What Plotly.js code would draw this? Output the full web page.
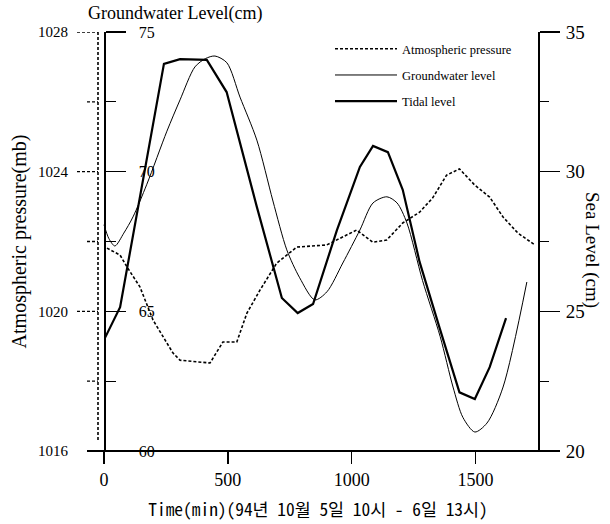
<!DOCTYPE html>
<html>
<head>
<meta charset="utf-8">
<script src="https://cdn.plot.ly/plotly-3.0.1.min.js"></script>
<style>html,body{margin:0;padding:0;background:#fff;}#chart{width:610px;height:524px;}</style>
</head>
<body>
<div id="chart"></div>
<script>
// Atmospheric pressure (mb)
const timePressure = [12, 65, 93, 145, 198, 278, 307, 428, 480, 536, 577, 629, 697, 778, 899, 1020, 1085, 1141, 1206, 1274, 1327, 1383, 1435, 1496, 1557, 1611, 1671, 1740];
const pressure = [1021.81, 1021.61, 1021.27, 1020.7, 1019.75, 1018.81, 1018.6, 1018.52, 1019.12, 1019.12, 1019.95, 1020.6, 1021.38, 1021.84, 1021.9, 1022.33, 1021.98, 1022.04, 1022.53, 1022.84, 1023.25, 1023.9, 1024.08, 1023.62, 1023.27, 1022.7, 1022.24, 1021.9];

// Groundwater level (cm)
const timeGround = [0, 20, 44, 80, 117, 173, 254, 307, 367, 410, 448, 496, 549, 617, 682, 738, 790, 851, 900, 964, 1033, 1086, 1142, 1183, 1223, 1286, 1357, 1409, 1449, 1497, 1546, 1611, 1707];
const groundwater = [68.1, 67.6, 67.34, 67.8, 68.38, 69.55, 71.45, 72.57, 73.75, 74.05, 74.14, 73.9, 72.67, 71.13, 68.95, 67.2, 66.2, 65.41, 65.7, 66.73, 67.91, 68.88, 69.1, 68.88, 68.16, 66.1, 64.1, 62.29, 61.2, 60.68, 61.0, 62.29, 66.05];

// Tidal level (cm)
const timeTidal = [4, 65, 242, 307, 415, 495, 617, 718, 782, 844, 940, 1033, 1086, 1146, 1206, 1274, 1355, 1435, 1497, 1557, 1623];
const tidal = [24.05, 25.15, 33.86, 34.03, 34.0, 32.85, 28.74, 25.48, 24.94, 25.26, 27.9, 30.17, 30.92, 30.7, 29.35, 26.77, 24.4, 22.1, 21.86, 23.0, 24.76];

// Tick labels
const timeTicks = [0, 500, 1000, 1500];
const pressureTicks = [1016, 1020, 1024, 1028];
const pressureMinor = [1018, 1022, 1026];
const groundTicks = [60, 65, 70, 75];
const groundMinor = [62.5, 67.5, 72.5];
const seaTicks = [20, 25, 30, 35];
const seaMinor = [22.5, 27.5, 32.5];

const serif = 'Liberation Serif, Times New Roman, serif';
const plotW = 440;

const traces = [
  {x: timePressure, y: pressure, yaxis: 'y', name: 'Atmospheric pressure', mode: 'lines',
   line: {color: '#000', width: 1.6, dash: '3px,2px'}, legendgroup: 'a'},
  {x: timeGround, y: groundwater, yaxis: 'y2', name: 'Groundwater level', mode: 'lines',
   line: {color: '#000', width: 1, shape: 'spline', smoothing: 0.8}, legendgroup: 'b'},
  {x: timeTidal, y: tidal, yaxis: 'y3', name: 'Tidal level', mode: 'lines',
   line: {color: '#000', width: 2.2}, legendgroup: 'c'}
];

const shapes = [
  // extended bottom axis line
  {type: 'line', xref: 'paper', yref: 'paper', x0: -11 / plotW, x1: 1 + 12 / plotW, y0: 0, y1: 0,
   line: {color: '#000', width: 1.8}},
  // dotted pressure axis
  {type: 'line', xref: 'paper', yref: 'paper', x0: 0, x1: 0, y0: 11 / 419, y1: 1,
   line: {color: '#000', width: 1.6, dash: '3px,2px'}}
];
pressureTicks.filter(v => v > 1016).forEach(v => shapes.push(
  {type: 'line', xref: 'paper', yref: 'y', x0: -21 / plotW, x1: 0, y0: v, y1: v,
   line: {color: '#000', width: 1.4, dash: '3px,2px'}}));
pressureMinor.forEach(v => shapes.push(
  {type: 'line', xref: 'paper', yref: 'y', x0: -11 / plotW, x1: 0, y0: v, y1: v,
   line: {color: '#000', width: 1.4, dash: '3px,2px'}}));

const layout = {
  width: 610, height: 524,
  margin: {l: 98, r: 72, t: 32, b: 73, pad: 0},
  paper_bgcolor: '#fff', plot_bgcolor: 'rgba(0,0,0,0)',
  showlegend: true,
  legend: {x: (330 - 98) / plotW, y: 0.995, xanchor: 'left', yanchor: 'top',
           font: {family: serif, size: 12.5, color: '#000'}, bgcolor: 'rgba(0,0,0,0)',
           traceorder: 'grouped', tracegroupgap: 7, itemwidth: 62},
  xaxis: {range: [-24.2, 1752], tickvals: timeTicks, ticktext: timeTicks.map(String),
          ticks: 'outside', ticklen: 12, tickwidth: 1.5, tickcolor: '#000',
          showline: false, zeroline: false, showgrid: false, ticklabelstandoff: 0,
          tickfont: {family: serif, size: 18, color: '#000'},
          title: {text: 'Time(min)(94년 10월 5일 10시 - 6일 13시)', standoff: 15,
                  font: {family: 'Noto Sans Mono CJK KR, DejaVu Sans Mono, Noto Sans CJK KR, monospace', size: 17.4, color: '#000'}}},
  yaxis: {range: [1016, 1028], tickvals: pressureTicks, ticktext: pressureTicks.map(String),
          ticks: 'outside', ticklen: 20, tickcolor: 'rgba(0,0,0,0)', ticklabelstandoff: 6,
          showline: false, zeroline: false, showgrid: false,
          tickfont: {family: serif, size: 15, color: '#000'},
          title: {text: 'Atmospheric pressure(mb)', standoff: 6, font: {family: serif, size: 20, color: '#000'}}},
  yaxis2: {overlaying: 'y', anchor: 'free', position: 6 / plotW, side: 'right',
           range: [60, 75], tickvals: groundTicks, ticktext: groundTicks.map(String),
           ticks: 'outside', ticklen: 20, tickwidth: 1.2, tickcolor: '#000', ticklabelstandoff: 10,
           showline: true, linecolor: '#000', linewidth: 1.5,
           zeroline: false, showgrid: false,
           minor: {tickvals: groundMinor, ticks: 'outside', ticklen: 10, tickwidth: 1.2, tickcolor: '#000'},
           tickfont: {family: serif, size: 16, color: '#000'}},
  yaxis3: {overlaying: 'y', anchor: 'x', side: 'right',
           range: [20, 35], tickvals: seaTicks, ticktext: seaTicks.map(String),
           ticks: 'outside', ticklen: 20, tickwidth: 1.5, tickcolor: '#000', ticklabelstandoff: 2,
           showline: true, linecolor: '#000', linewidth: 2,
           zeroline: false, showgrid: false,
           minor: {tickvals: seaMinor, ticks: 'outside', ticklen: 9, tickwidth: 1.2, tickcolor: '#000'},
           tickfont: {family: serif, size: 19, color: '#000'}},
  shapes: shapes,
  annotations: [
    {text: 'Groundwater Level(cm)', xref: 'paper', yref: 'paper', x: (175 - 98) / plotW, y: (451 - 13) / 419,
     xanchor: 'center', yanchor: 'middle', showarrow: false, font: {family: serif, size: 18, color: '#000'}},
    {text: 'Sea Level (cm)', xref: 'paper', yref: 'paper', x: (592 - 98) / plotW, y: (451 - 250) / 419,
     xanchor: 'center', yanchor: 'middle', textangle: 90, showarrow: false, font: {family: serif, size: 19, color: '#000'}}
  ]
};

Plotly.newPlot('chart', traces, layout, {displayModeBar: false, staticPlot: true});
</script>
</body>
</html>
